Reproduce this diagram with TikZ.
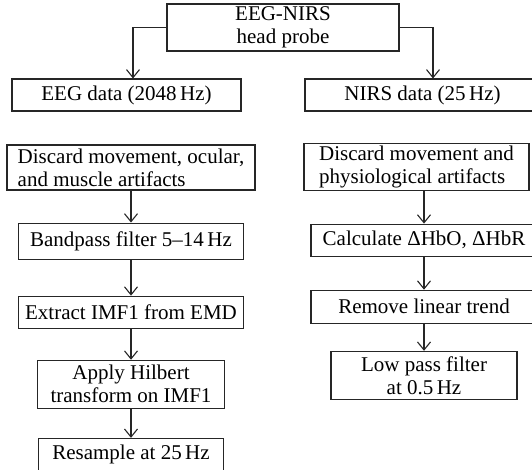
\documentclass[tikz,border=0pt]{standalone}
\usepackage{fontspec}
\setmainfont{Liberation Serif}
\usetikzlibrary{positioning,arrows.meta}

\begin{document}
\begin{tikzpicture}[
        x=1pt, y=-1pt,
        font=\fontsize{21}{23}\selectfont,
        >={Straight Barb[length=8pt,width=13pt]},
        box/.style={draw=black!85, line width=1.1pt, align=center, inner sep=2pt, minimum height=32pt},
        tall/.style={box, minimum height=47pt},
        arrow/.style={->, line width=1.1pt, draw=black!85},
    ]
    \useasboundingbox (0,0) rectangle (532,470);

    % probe
    \node[tall, minimum width=232pt] (probe) at (283,27.5) {EEG-NIRS\\head probe};

    % EEG column
    \node[box, minimum width=229pt] (eeg) at (126.5,95) {EEG data (2048\,Hz)};
    \node[tall, minimum width=248pt, minimum height=45pt, align=left] (eegart) at (131,167.5) {Discard movement, ocular,\\and muscle artifacts};
    \node[box, minimum width=225pt, minimum height=36pt, below=32pt of eegart] (bandpass) {Bandpass filter 5--14\,Hz};
    \node[box, minimum width=225pt, below=36pt of bandpass] (imf) {Extract IMF1 from EMD};
    \node[tall, minimum width=187pt, minimum height=48pt, below=31pt of imf] (hilbert) {Apply Hilbert\\transform on IMF1};
    \node[box, minimum width=185pt, minimum height=33pt, below=29pt of hilbert] (resample) {Resample at 25\,Hz};

    % NIRS column
    \node[box, minimum width=235pt] (nirs) at (422.5,95) {NIRS data (25\,Hz)};
    \node[tall, minimum width=225pt, minimum height=44pt, align=left] (nirsart) at (416.5,167) {Discard movement and\\physiological artifacts};
    \node[box, minimum width=226pt, below=33pt of nirsart, xshift=7.5pt] (hb) {Calculate ΔHbO, ΔHbR};
    \node[box, minimum width=226pt, minimum height=33pt, below=33pt of hb] (trend) {Remove linear trend};
    \node[tall, minimum width=186pt, minimum height=48pt, below=27pt of trend] (lowpass) {Low pass filter\\at 0.5\,Hz};

    % connectors
    \draw[arrow] (probe.west) -| ([xshift=6.5pt]eeg.north);
    \draw[arrow] (probe.east) -| ([xshift=10.5pt]nirs.north);
    \foreach \a/\b in {eegart/bandpass, bandpass/imf, imf/hilbert, hilbert/resample} {
            \draw[arrow] (\a.south) -- (\b.north);
        }
    \draw[arrow] (nirsart.south -| hb.north) -- (hb.north);
    \draw[arrow] (hb.south) -- (trend.north);
    \draw[arrow] (trend.south) -- (lowpass.north);

\end{tikzpicture}
\end{document}
